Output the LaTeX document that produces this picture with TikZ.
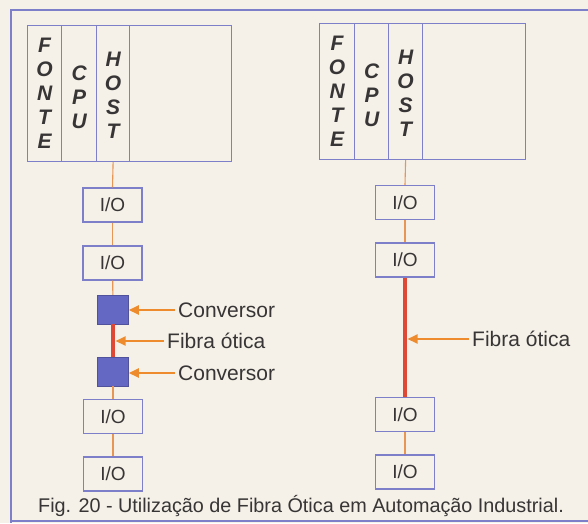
\documentclass[tikz,border=0pt]{standalone}
\usepackage{fontspec}
\setmainfont{Liberation Sans}
\usetikzlibrary{arrows.meta,calc}
\definecolor{paper}{RGB}{245,241,232}
\definecolor{boxblue}{RGB}{125,128,200}
\definecolor{wire}{RGB}{232,150,85}
\definecolor{fiber}{RGB}{222,72,52}
\definecolor{convblue}{RGB}{100,104,194}
\definecolor{arroworange}{RGB}{238,140,45}
\definecolor{txt}{RGB}{55,53,53}
\tikzset{
 col/.style={draw=boxblue, line width=1.2pt, inner sep=0pt, minimum height=136pt, anchor=north west},
 vlet/.style={font=\fontsize{21}{24}\selectfont\bfseries\itshape, text=txt, align=center, inner sep=0pt},
 iobox/.style={draw=boxblue, line width=1.2pt, minimum width=59pt, minimum height=34pt, inner sep=0pt, font=\fontsize{19}{22}\selectfont, text=txt},
 conv/.style={fill=convblue, draw=convblue!80!black, line width=0.5pt, minimum width=31pt, minimum height=29pt, inner sep=0pt},
 wireline/.style={draw=wire, line width=1.1pt},
 fiberline/.style={draw=fiber, line width=4pt},
 pointer/.style={draw=arroworange, line width=1.8pt, -{Triangle[length=10pt,width=9pt]}},
 lbl/.style={font=\fontsize{21}{24}\selectfont, text=txt, anchor=west, inner xsep=3pt, inner ysep=0pt},
 frame/.style={draw=boxblue, line width=1.2pt},
}
\begin{document}
\begin{tikzpicture}[x=1pt,y=-1pt]
\fill[paper] (0,0) rectangle (588,523);
\useasboundingbox (0,0) rectangle (588,523);
% outer frame
\draw[frame] (588,10) -- (11,10) -- (11,523);
\draw[frame] (11,521) -- (588,521);

% ---------- left system ----------
\node[col, minimum width=34pt] (fonteL) at (27,25) {};
\node[col, minimum width=35pt] (cpuL) at (61,25) {};
\node[col, minimum width=33pt] (hostL) at (96,25) {};
\node[col, minimum width=102pt] (restL) at (129,25) {};
\node[vlet] (tfonteL) at (fonteL.center) {F\\O\\N\\T\\E};
\node[vlet] (tcpuL) at ([yshift=-4pt]cpuL.center) {C\\P\\U};
\node[vlet] (thostL) at ([yshift=-2pt]hostL.center) {H\\O\\S\\T};

\node[iobox] (io1L) at (112.5,205) {I/O};
\node[iobox] (io2L) at (112.5,263) {I/O};
\node[conv] (cv1L) at (113,309.5) {};
\node[conv] (cv2L) at (113,371.5) {};
\node[iobox] (io3L) at (113,416.5) {I/O};
\node[iobox] (io4L) at (113,474) {I/O};

\draw[wireline] (hostL.south) -- (io1L.north);
\draw[wireline] (io1L) -- (io2L);
\draw[wireline] (io2L) -- (cv1L);
\draw[fiberline] (cv1L) -- (cv2L);
\draw[wireline] (cv2L) -- (io3L);
\draw[wireline] (io3L) -- (io4L);
\coordinate (fibL) at ($(cv1L.south)!0.5!(cv2L.north)$);

\node[lbl] (lc1) at (175,310) {Conversor};
\node[lbl] (lf1) at (164,341) {Fibra ótica};
\node[lbl] (lc2) at (175,373) {Conversor};
\draw[pointer] (lc1.west) -- (lc1.west -| cv1L.east);
\draw[pointer] (lf1.west) -- ($(lf1.west -| fibL)+(2.5,0)$);
\draw[pointer] (lc2.west) -- (lc2.west -| cv2L.east);

% ---------- right system ----------
\node[col, minimum width=35pt] (fonteR) at (319,23) {};
\node[col, minimum width=34pt] (cpuR) at (354,23) {};
\node[col, minimum width=34pt] (hostR) at (388,23) {};
\node[col, minimum width=103pt] (restR) at (422,23) {};
\node[vlet] (tfonteR) at (fonteR.center) {F\\O\\N\\T\\E};
\node[vlet] (tcpuR) at ([yshift=-4pt]cpuR.center) {C\\P\\U};
\node[vlet] (thostR) at ([yshift=-2pt]hostR.center) {H\\O\\S\\T};

\node[iobox] (io1R) at (405,202.5) {I/O};
\node[iobox] (io2R) at (405,260) {I/O};
\node[iobox] (io3R) at (405,414.5) {I/O};
\node[iobox] (io4R) at (405,472) {I/O};

\draw[wireline] (hostR.south) -- (io1R.north);
\draw[wireline] (io1R) -- (io2R);
\draw[fiberline] (io2R) -- (io3R);
\draw[wireline] (io3R) -- (io4R);
\coordinate (fibR) at ($(io2R.south)!0.5!(io3R.north)$);

\node[lbl] (lf2) at (469,339) {Fibra ótica};
\draw[pointer] (lf2.west) -- ($(lf2.west -| fibR)+(2.5,0)$);

% caption
\node[font=\fontsize{19.8}{22}\selectfont, text=txt, inner sep=0pt] (cap) at (301,506) {Fig. 20 - Utilização de Fibra Ótica em Automação Industrial.};
\end{tikzpicture}
\end{document}
